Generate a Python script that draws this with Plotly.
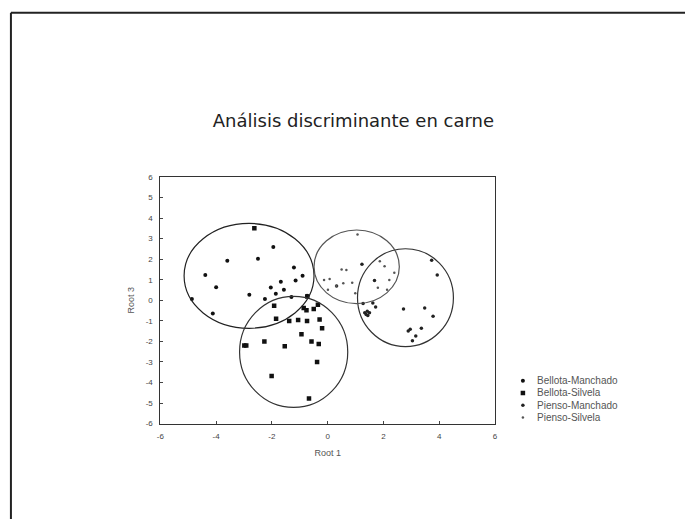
import plotly.graph_objects as go

# ---- data ----
bm_x = [-4.87, -4.39, -4.00, -4.12, -3.60, -2.50, -1.95, -2.81, -2.25, -2.04, -1.86, -1.68, -1.57, -1.21, -1.15, -0.90, -1.30, -0.74]
bm_y = [0.06, 1.23, 0.64, -0.64, 1.92, 2.02, 2.59, 0.27, 0.06, 0.62, 0.32, 0.90, 0.51, 1.60, 0.96, 1.20, 0.16, 0.22]

bs_x = [-2.63, -1.92, -0.86, -0.76, -0.35, -0.50, -1.85, -1.38, -1.06, -0.74, -0.29, -0.20, -0.94, -0.58, -0.32, -2.27, -2.99, -2.92, -1.54, -0.38, -2.01, -0.67, -0.73]
bs_y = [3.50, -0.26, -0.37, -0.48, -0.21, -0.42, -0.90, -1.00, -0.96, -1.00, -0.93, -1.36, -1.65, -2.00, -2.13, -2.00, -2.20, -2.20, -2.24, -3.00, -3.68, -4.77, 0.19]

pm_x = [3.73, 3.93, 2.72, 3.48, 3.78, 3.36, 2.89, 2.96, 3.16, 3.04, 1.62, 1.72, 1.27, 1.33, 1.38, 1.44, 1.50, 1.42, 1.23, 1.68, 0.32]
pm_y = [1.95, 1.23, -0.42, -0.37, -0.77, -1.36, -1.49, -1.41, -1.73, -1.97, -0.13, -0.32, -0.16, -0.61, -0.69, -0.74, -0.61, -0.53, 1.76, 0.96, 0.70]

ps_x = [1.07, 0.50, 0.67, 0.56, 0.88, 1.87, 2.04, 2.39, 2.21, 1.80, 2.13, 0.99, -0.13, 0.07, 0.31, 0.01]
ps_y = [3.20, 1.50, 1.47, 0.83, 0.86, 1.90, 1.66, 1.34, 0.99, 0.61, 0.51, 0.35, 0.99, 1.04, 0.70, 0.51]

series_names = ["Bellota-Manchado", "Bellota-Silvela", "Pienso-Manchado", "Pienso-Silvela"]
series_symbols = ["circle", "square", "circle", "circle"]
series_sizes = [4, 4.5, 3.5, 2.5]
series_colors = ["#111111", "#111111", "#222222", "#555555"]

# ellipses: centre x, centre y, half width, half height
ell_cx = [-2.82, -1.22, 2.79, 1.04]
ell_cy = [1.19, -2.51, 0.13, 1.63]
ell_rx = [2.33, 1.94, 1.72, 1.53]
ell_ry = [2.55, 2.70, 2.38, 1.79]
ell_colors = ["#222222", "#333333", "#333333", "#555555"]

x_ticks = [-6, -4, -2, 0, 2, 4, 6]
x_tick_labels = ["-6", "-4", "-2", "0", "2", "4", "6"]
y_ticks = [-6, -5, -4, -3, -2, -1, 0, 1, 2, 3, 4, 5, 6]
y_tick_labels = ["-6", "-5", "-4", "-3", "-2", "-1", "0", "1", "2", "3", "4", "5", "6"]

title_text = "Análisis discriminante en carne"
x_title = "Root 1"
y_title = "Root 3"

W, H = 688, 524
FONT = "Liberation Sans, Arial"

# ---- figure ----
fig = go.Figure()
all_x = [bm_x, bs_x, pm_x, ps_x]
all_y = [bm_y, bs_y, pm_y, ps_y]
for i in range(4):
    fig.add_trace(go.Scatter(
        x=all_x[i], y=all_y[i], mode="markers", name=series_names[i],
        marker=dict(symbol=series_symbols[i], size=series_sizes[i], color=series_colors[i]),
        showlegend=False, xaxis="x", yaxis="y"))

# manual legend: markers on an auxiliary axis, labels as annotations
leg_y = [3, 2, 1, 0]
for i in range(4):
    fig.add_trace(go.Scatter(
        x=[0], y=[leg_y[i]], mode="markers",
        marker=dict(symbol=series_symbols[i], size=series_sizes[i], color=series_colors[i]),
        showlegend=False, xaxis="x2", yaxis="y2", hoverinfo="skip"))
    fig.add_annotation(x=0.75, y=leg_y[i], xref="x2", yref="y2", text=series_names[i],
                       showarrow=False, xanchor="left", yanchor="middle",
                       font=dict(family=FONT, size=10, color="#555555"))

for i in range(4):
    fig.add_shape(type="circle", xref="x", yref="y",
                  x0=ell_cx[i] - ell_rx[i], x1=ell_cx[i] + ell_rx[i],
                  y0=ell_cy[i] - ell_ry[i], y1=ell_cy[i] + ell_ry[i],
                  line=dict(color=ell_colors[i], width=1.2))

# page frame lines
fig.add_shape(type="line", xref="paper", yref="paper", x0=7 / W, x1=1, y0=1 - 9 / H, y1=1 - 9 / H,
              line=dict(color="#222222", width=2))
fig.add_shape(type="line", xref="paper", yref="paper", x0=7 / W, x1=7 / W, y0=1 - 9 / H, y1=0,
              line=dict(color="#222222", width=2))

fig.update_layout(
    width=W, height=H,
    margin=dict(l=0, r=0, t=0, b=0),
    paper_bgcolor="white", plot_bgcolor="white",
    title=dict(text=title_text, x=353 / W, xref="paper", xanchor="center",
               y=1 - 121 / H, yref="container", yanchor="middle",
               font=dict(family="DejaVu Sans", size=18, color="#222222")),
    xaxis=dict(domain=[158 / W, 496 / W], range=[-6, 6], tickvals=x_ticks, ticktext=x_tick_labels,
               ticks="inside", ticklen=3, ticklabelstandoff=5,
               showgrid=False, zeroline=False, showline=True, mirror=True,
               linecolor="#333333", linewidth=1, anchor="y",
               tickfont=dict(family=FONT, size=8, color="#444444"),
               title=dict(text=x_title, standoff=9,
                          font=dict(family=FONT, size=9, color="#555555"))),
    yaxis=dict(domain=[(H - 427) / H, (H - 176) / H], range=[-6, 6], tickvals=y_ticks,
               ticktext=y_tick_labels, ticks="inside", ticklen=3, ticklabelstandoff=5,
               showgrid=False, zeroline=False, showline=True, mirror=True,
               linecolor="#333333", linewidth=1, anchor="x",
               tickfont=dict(family=FONT, size=8, color="#444444"),
               title=dict(text=y_title, standoff=9,
                          font=dict(family=FONT, size=9, color="#555555"))),
    xaxis2=dict(domain=[516 / W, 656 / W], range=[-0.5, 8], visible=False, anchor="y2"),
    yaxis2=dict(domain=[(H - 427) / H, (H - 377) / H], range=[-0.5, 3.5], visible=False, anchor="x2"),
    showlegend=False,
)

fig.write_html("out.html")
